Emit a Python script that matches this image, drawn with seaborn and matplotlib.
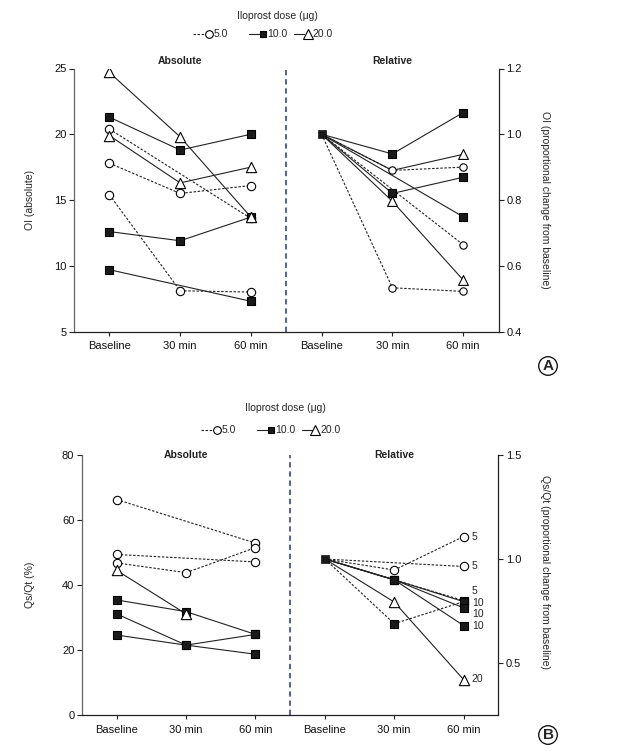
import pandas as pd
import matplotlib
matplotlib.use("Agg")
import matplotlib.pyplot as plt
import matplotlib.transforms as mtransforms
from matplotlib.lines import Line2D
import seaborn as sns

# categories
times = ["Baseline", "30 min", "60 min"]
doses = [5, 10, 20]
dose_labels = ["5.0", "10.0", "20.0"]
nan = float("nan")

# Panel A: oxygenation index, absolute
oi_abs_dose = [20, 10, 5, 20, 5, 5, 10, 10]
oi_abs = [[24.7, 19.8, 13.7],
          [21.3, 18.8, 20.0],
          [20.4, nan, 13.6],
          [19.9, 16.3, 17.5],
          [17.8, 15.5, 16.1],
          [15.4, 8.1, 8.0],
          [12.6, 11.9, 13.7],
          [9.7, nan, 7.3]]

# Panel A: oxygenation index, relative to baseline
oi_rel_dose = [10, 20, 5, 10, 20, 10, 5, 5]
oi_rel = [[1.0, 0.94, 1.066],
          [1.0, 0.89, 0.939],
          [1.0, 0.89, 0.90],
          [1.0, 0.82, 0.869],
          [1.0, 0.796, 0.557],
          [1.0, nan, 0.749],
          [1.0, nan, 0.664],
          [1.0, 0.533, 0.522]]
oi_rel_hidden = [(1, 1)]  # marker covered by the open circle

# Panel B: shunt fraction, absolute
qs_abs_dose = [5, 5, 5, 20, 10, 10, 10]
qs_abs = [[66.3, nan, 52.9],
          [49.4, nan, 47.1],
          [46.8, 43.8, 51.5],
          [44.5, 31.1, nan],
          [35.4, 31.8, 24.8],
          [31.1, 21.5, 18.7],
          [24.6, 21.5, 24.8]]

# Panel B: shunt fraction, relative to baseline
qs_rel_dose = [5, 5, 5, 5, 10, 10, 10, 20]
qs_rel_symbol = [5, 5, 10, 10, 10, 10, 10, 20]
qs_rel = [[1.0, 0.947, 1.108],
          [1.0, nan, 0.964],
          [1.0, nan, 0.80],
          [1.0, 0.689, 0.795],
          [1.0, 0.90, 0.795],
          [1.0, 0.90, 0.765],
          [1.0, 0.90, 0.68],
          [1.0, 0.793, 0.42]]
qs_rel_labels = ["5", "5", "5", "10", "10", "10", "20"]
qs_rel_label_y = [1.108, 0.964, 0.847, 0.79, 0.734, 0.677, 0.422]

rel_base = 1.0

sns.set_style("ticks")
plt.rcParams["font.family"] = ["Liberation Sans", "DejaVu Sans"]
plt.rcParams["font.size"] = 7.5

DASHES = {5: (2.2, 1.5), 10: "", 20: ""}
MARK = {5: ("o", "white"), 10: ("s", "#1a1a1a"), 20: ("^", "white")}
SIZES = {5: 36, 10: 30, 20: 55}
INK = "#222222"


def to_long(values, dose, symbol=None, offset=0, hidden=(), rel=False):
    if symbol is None:
        symbol = dose
    rows = []
    for i, vals in enumerate(values):
        for j, v in enumerate(vals):
            show = not (rel and j == 0) and (i, j) not in hidden
            rows.append(dict(subject=i, pos=j + offset, value=v,
                             dose=dose[i], symbol=symbol[i], show=show))
    return pd.DataFrame(rows).dropna()


def draw(ax, df, sizes):
    sns.lineplot(data=df, x="pos", y="value", units="subject", estimator=None,
                 style="dose", dashes=DASHES, color=INK, lw=0.8,
                 legend=False, sort=False, ax=ax)
    pts = df[df["show"]]
    for s, (m, fc) in MARK.items():
        sub = pts[pts["symbol"] == s]
        if len(sub):
            sns.scatterplot(data=sub, x="pos", y="value", marker=m, s=sizes[s],
                            color=fc, edgecolor="black", linewidth=0.8,
                            legend=False, ax=ax, zorder=3)
    ax.set_xlabel("")
    ax.set_ylabel("")


def style_axes(ax, ax2, ylim, yticks, ylim2, yticks2, ylabel, ylabel2, lab_x):
    ax.set_xlim(-0.5, 5.5)
    ax.set_xticks(range(6))
    ax.set_xticklabels(times * 2)
    ax.set_ylim(*ylim)
    ax.set_yticks(yticks)
    ax2.set_ylim(*ylim2)
    ax2.set_yticks(yticks2)
    ax2.set_yticklabels([f"{t:.1f}" for t in yticks2])
    for a in (ax, ax2):
        a.spines["top"].set_visible(False)
    ax.spines["right"].set_visible(False)
    ax2.spines["left"].set_visible(False)
    ax2.spines["bottom"].set_visible(False)
    ax.spines["left"].set_color("#666666")
    ax.spines["bottom"].set_color(INK)
    ax2.spines["right"].set_color(INK)
    for a in (ax, ax2):
        for sp in a.spines.values():
            sp.set_linewidth(0.9)
        a.tick_params(labelsize=8, length=3.5, width=0.8, color=INK,
                      labelcolor="#111111", pad=2)
    ax.tick_params(axis="x", length=3, pad=4)
    ax.axvline(2.5, color="#203a74", ls=(0, (3.5, 2.5)), lw=1.1, zorder=1)
    ax.set_ylabel(ylabel, fontsize=7.5)
    ax.yaxis.set_label_coords(lab_x[0], 0.5)
    ax2.set_ylabel(ylabel2, fontsize=7.5, rotation=270, va="center")
    ax2.yaxis.set_label_coords(lab_x[1], lab_x[2])


def titles(ax, y):
    tr = mtransforms.blended_transform_factory(ax.transData, ax.transAxes)
    ax.text(1, y, "Absolute", transform=tr, ha="center", va="center",
            fontsize=7.5, fontweight="bold", color="#222222")
    ax.text(4, y, "Relative", transform=tr, ha="center", va="center",
            fontsize=7.5, fontweight="bold", color="#222222")


W, H = 623, 756
fig = plt.figure(figsize=(W / 100, H / 100), dpi=100)


def px(x, y):
    return x / W, 1 - y / H


def dose_key(dx, y_title, y_row):
    fig.text(*px(277 + dx, y_title), "Iloprost dose (\u03bcg)", ha="center",
             va="center", fontsize=7.5)
    starts = [193, 249, 294]
    for k, d in enumerate(doses):
        m, fc = MARK[d]
        x0 = starts[k] + dx
        x1 = x0 + (12 if d == 5 else 10)
        xm = x1 + 3.5
        fig.add_artist(Line2D([x0 / W, x1 / W], [1 - y_row / H] * 2,
                              transform=fig.transFigure, color=INK, lw=0.8,
                              dashes=DASHES[d] if d == 5 else (None, None)))
        fig.add_artist(Line2D([xm / W], [1 - y_row / H], transform=fig.transFigure,
                              marker=m, ms={5: 5.5, 10: 5.0, 20: 6.5}[d], mfc=fc,
                              mec="black", mew=0.8, ls="none"))
        fig.text(*px(xm + 5, y_row), dose_labels[k], ha="left", va="center",
                 fontsize=7.5)


def badge(x, y, letter):
    fig.text(*px(x, y), letter, ha="center", va="center", fontsize=11,
             fontweight="bold",
             bbox=dict(boxstyle="circle,pad=0.15", fc="white", ec="black", lw=0.9))


# ---- Panel A ----
axA = fig.add_axes([74 / W, 1 - 331.5 / H, 424.5 / W, 263 / H])
axA2 = axA.twinx()
draw(axA, to_long(oi_abs, oi_abs_dose), SIZES)
draw(axA2, to_long(oi_rel, oi_rel_dose, offset=3, hidden=oi_rel_hidden, rel=True),
     {5: 28, 10: 26, 20: 50})
sns.scatterplot(x=[3], y=[rel_base], marker="s", s=30, color="#1a1a1a",
                edgecolor="black", ax=axA2, zorder=4, legend=False)
style_axes(axA, axA2, (5, 25), [5, 10, 15, 20, 25], (0.4, 1.2),
           [0.4, 0.6, 0.8, 1.0, 1.2], "OI (absolute)",
           "OI (proportional change from baseline)", (-0.092, 1.11, 0.5))
titles(axA, 1.03)
dose_key(0, 15.7, 34.3)
badge(548, 366, "A")

# ---- Panel B ----
axB = fig.add_axes([82 / W, 1 - 715 / H, 416.3 / W, 260 / H])
axB2 = axB.twinx()
draw(axB, to_long(qs_abs, qs_abs_dose), SIZES)
draw(axB2, to_long(qs_rel, qs_rel_dose, symbol=qs_rel_symbol, offset=3, rel=True),
     {5: 36, 10: 30, 20: 55})
sns.scatterplot(x=[3], y=[rel_base], marker="s", s=30, color="#1a1a1a",
                edgecolor="black", ax=axB2, zorder=4, legend=False)
for lab, yv in zip(qs_rel_labels, qs_rel_label_y):
    axB2.text(5.12, yv, lab, ha="left", va="center", fontsize=7.5)
style_axes(axB, axB2, (0, 80), [0, 20, 40, 60, 80], (0.25, 1.5),
           [0.5, 1.0, 1.5], "Qs/Qt (%)",
           "Qs/Qt (proportional change from baseline)", (-0.113, 1.112, 0.55))
titles(axB, 1.0)
dose_key(8, 408, 430)
badge(548, 735, "B")

fig.savefig("out.png", dpi=100)
